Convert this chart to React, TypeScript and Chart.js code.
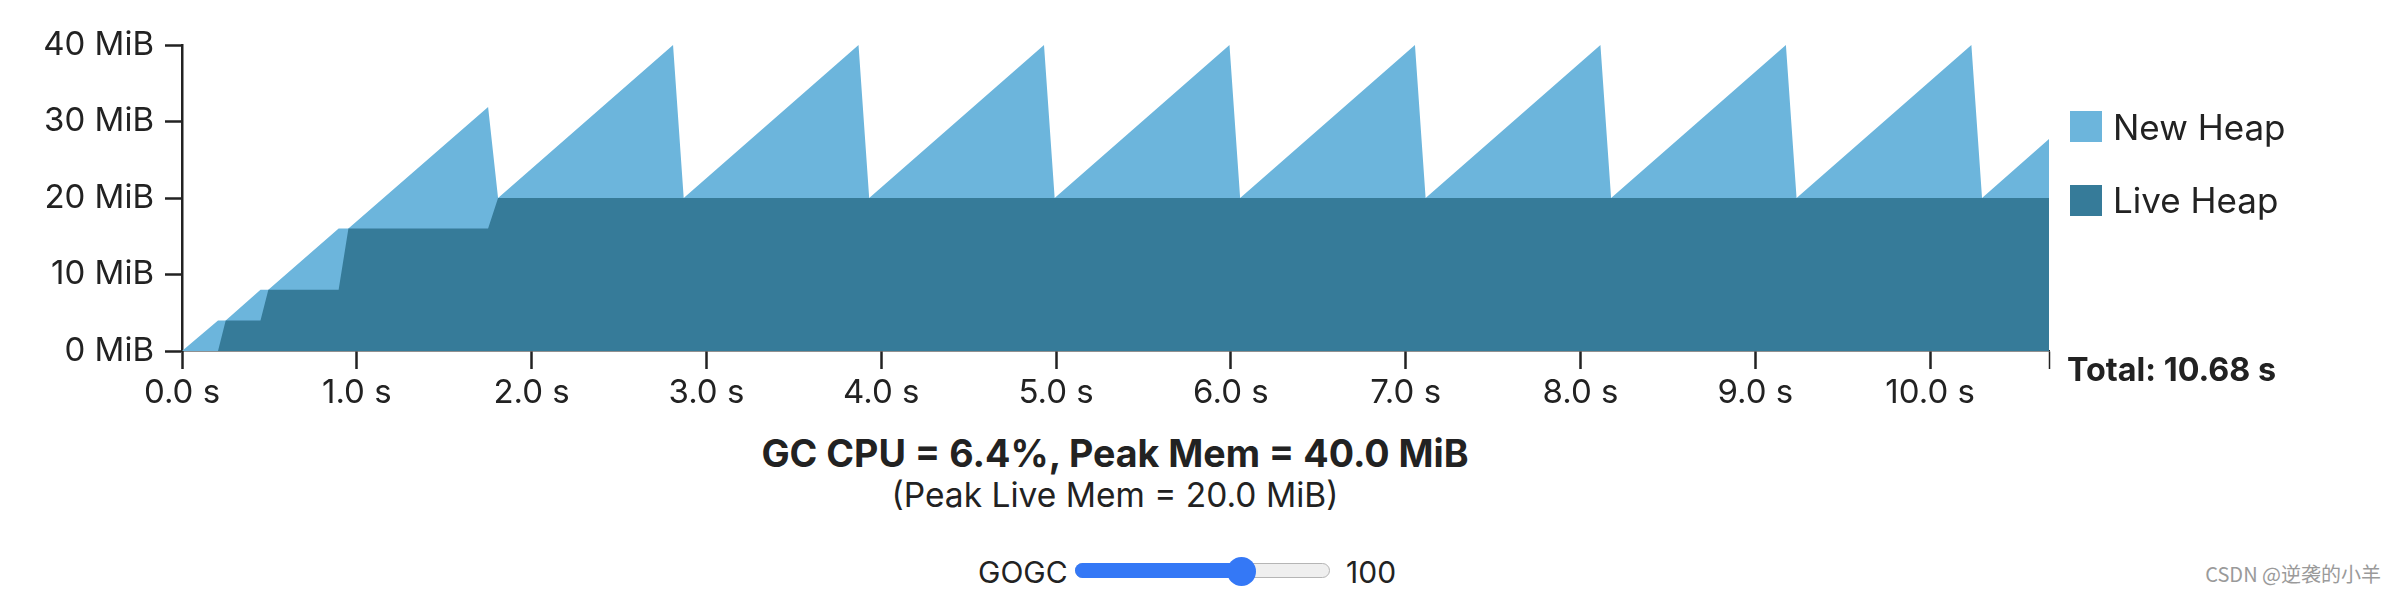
import React, { useEffect, useRef } from 'react';
import { Chart, registerables } from 'chart.js';
Chart.register(...registerables);

// Time (seconds) of each breakpoint in the heap timeline
const timeSec = [0, 0.206, 0.25, 0.449, 0.494, 0.896, 0.952, 1.751, 1.808, 2.809, 2.87, 3.87, 3.931, 4.931, 4.992, 5.992, 6.053, 7.053, 7.114, 8.114, 8.175, 9.175, 9.236, 10.236, 10.297, 10.68];
// Live heap (MiB)
const liveHeapMiB = [0, 0, 4, 4, 8, 8, 16, 16, 20, 20, 20, 20, 20, 20, 20, 20, 20, 20, 20, 20, 20, 20, 20, 20, 20, 20];
// Total heap = live + new (MiB)
const totalHeapMiB = [0, 4, 4, 8, 8, 16, 16, 31.9, 20, 40, 20, 40, 20, 40, 20, 40, 20, 40, 20, 40, 20, 40, 20, 40, 20, 27.7];
const yTickValues = [0, 10, 20, 30, 40];
const xTickValues = [0, 1, 2, 3, 4, 5, 6, 7, 8, 9, 10];
const totalSeconds = 10.68;
const seriesLabels = ['New Heap', 'Live Heap'];

const FONT = 'Inter, "Liberation Sans", sans-serif';
const TEXT = '#222222';
const NEW_HEAP = '#6cb5dc';
const LIVE_HEAP = '#367b99';

function HeapChart() {
  const ref = useRef<HTMLCanvasElement | null>(null);
  useEffect(() => {
    if (!ref.current) return;
    const chart = new Chart(ref.current, {
      type: 'line',
      data: {
        datasets: [
          {
            label: seriesLabels[0],
            data: timeSec.map((t, i) => ({ x: t, y: totalHeapMiB[i] })),
            fill: 'origin',
            backgroundColor: NEW_HEAP,
            borderColor: NEW_HEAP,
            borderWidth: 0,
            pointRadius: 0,
            tension: 0,
            order: 2,
          },
          {
            label: seriesLabels[1],
            data: timeSec.map((t, i) => ({ x: t, y: liveHeapMiB[i] })),
            fill: 'origin',
            backgroundColor: LIVE_HEAP,
            borderColor: LIVE_HEAP,
            borderWidth: 0,
            pointRadius: 0,
            tension: 0,
            order: 1,
          },
        ],
      },
      options: {
        animation: false,
        responsive: false,
        devicePixelRatio: 1,
        layout: { padding: { top: 45, right: 31, bottom: 0, left: 0 } },
        plugins: { legend: { display: false }, tooltip: { enabled: false } },
        scales: {
          x: {
            type: 'linear',
            min: 0,
            max: totalSeconds,
            afterBuildTicks: (axis: any) => {
              axis.ticks = [...xTickValues, totalSeconds].map((v) => ({ value: v }));
            },
            afterFit: (s: any) => {
              s.height = 79;
            },
            ticks: {
              autoSkip: false,
              maxRotation: 0,
              padding: 4,
              color: TEXT,
              font: { family: FONT, size: 33 },
              callback: (v: any) => (v === totalSeconds ? '' : `${Number(v).toFixed(1)} s`),
            },
            grid: {
              drawOnChartArea: false,
              drawTicks: true,
              tickLength: 18,
              tickColor: TEXT,
              tickWidth: (ctx: any) => (ctx.tick && ctx.tick.value === totalSeconds ? 1.5 : 2.5),
            },
            border: { display: true, color: TEXT, width: 1.5 },
          },
          y: {
            min: 0,
            max: 40,
            afterBuildTicks: (axis: any) => {
              axis.ticks = yTickValues.map((v) => ({ value: v }));
            },
            afterFit: (s: any) => {
              s.width = 182;
            },
            ticks: {
              padding: 11,
              color: TEXT,
              font: { family: FONT, size: 33 },
              callback: (v: any) => `${v} MiB`,
            },
            grid: {
              drawOnChartArea: false,
              drawTicks: true,
              tickLength: 17,
              tickColor: TEXT,
              tickWidth: 2.5,
            },
            border: { display: true, color: TEXT, width: 2.5 },
          },
        },
      },
    });
    return () => chart.destroy();
  }, []);
  return (
    <canvas
      ref={ref}
      width={2080}
      height={430}
      style={{ position: 'absolute', left: -8, top: -8, width: 2080, height: 430 }}
    />
  );
}

// place text by baseline (page coordinates)
function Txt(props: {
  x: number;
  base: number;
  size: number;
  bold?: boolean;
  children: any;
  align?: 'left' | 'center' | 'right';
  color?: string;
  family?: string;
}) {
  const { x, base, size, bold, color, family } = props;
  const align = props.align || 'left';
  const left = align === 'center' ? x - 8 - 1000 : align === 'right' ? x - 8 - 2000 : x - 8;
  return (
    <div
      style={{
        position: 'absolute',
        left,
        width: align === 'left' ? undefined : 2000,
        textAlign: align,
        top: base - 8 - size * 0.86,
        fontSize: size,
        lineHeight: `${size}px`,
        fontFamily: family || FONT,
        fontWeight: bold ? 700 : 400,
        color: color || TEXT,
        whiteSpace: 'nowrap',
      }}
    >
      {props.children}
    </div>
  );
}

export default function App() {
  return (
    <div style={{ position: 'relative', width: 2380, height: 578, background: '#fff' }}>
      <HeapChart />
      {/* legend */}
      <div style={{ position: 'absolute', left: 2070 - 8, top: 111 - 8, width: 32, height: 31, background: NEW_HEAP }} />
      <Txt x={2113} base={140} size={35}>{seriesLabels[0]}</Txt>
      <div style={{ position: 'absolute', left: 2070 - 8, top: 185 - 8, width: 32, height: 31, background: LIVE_HEAP }} />
      <Txt x={2113} base={213} size={35}>{seriesLabels[1]}</Txt>
      <Txt x={2067} base={382} size={32.3} bold>{`Total: ${totalSeconds.toFixed(2)} s`}</Txt>
      {/* summary */}
      <Txt x={1115} base={467} size={37.6} bold align="center">GC CPU = 6.4%, Peak Mem = 40.0 MiB</Txt>
      <Txt x={1115} base={508} size={33.5} align="center">(Peak Live Mem = 20.0 MiB)</Txt>
      {/* slider */}
      <Txt x={978} base={583} size={30}>GOGC</Txt>
      <div style={{ position: 'absolute', left: 1075 - 8, top: 563 - 8, width: 255, height: 15, borderRadius: 8, background: '#efefef', border: '1px solid #b5b5b5', boxSizing: 'border-box' }} />
      <div style={{ position: 'absolute', left: 1075 - 8, top: 563 - 8, width: 1241 - 1075, height: 15, borderRadius: 8, background: '#3478f6' }} />
      <div style={{ position: 'absolute', left: 1241 - 14.5 - 8, top: 571 - 14.5 - 8, width: 29, height: 29, borderRadius: '50%', background: '#3478f6' }} />
      <Txt x={1346} base={583} size={30}>100</Txt>
      <Txt x={2381} base={581} size={20} align="right" color="#9a9a9a" family='"Noto Sans CJK SC", sans-serif'>CSDN @逆袭的小羊</Txt>
    </div>
  );
}
